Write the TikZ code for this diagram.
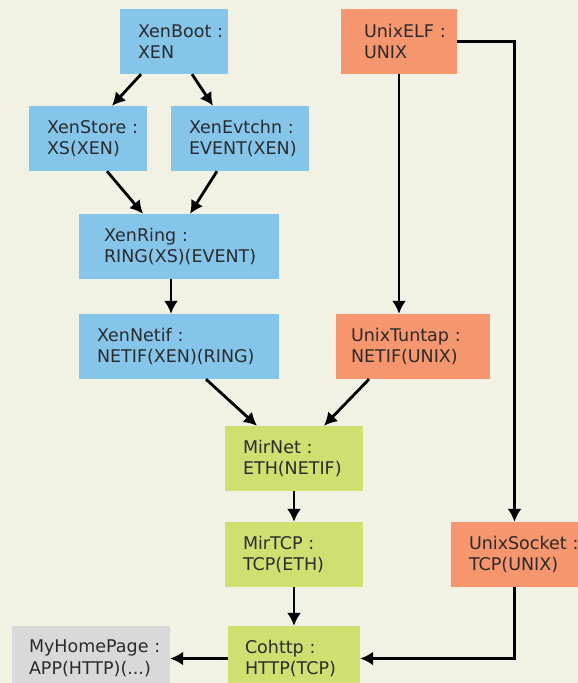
\documentclass[tikz,border=0pt]{standalone}
\usepackage{fontspec}
\setmainfont{DejaVu Sans}
\usetikzlibrary{arrows.meta,calc}
\definecolor{bg}{HTML}{F2F2E4}
\definecolor{xenc}{HTML}{85C5EA}
\definecolor{unixc}{HTML}{F5966F}
\definecolor{mirc}{HTML}{D0DF70}
\definecolor{appc}{HTML}{D9D9D9}
\definecolor{txt}{HTML}{2B2B2B}
\tikzset{
  box/.style={minimum height=65pt, inner ysep=0pt, align=left, text=txt,
    font=\fontsize{17.5}{21.5}\selectfont},
  xenbox/.style={box, fill=xenc},
  unixbox/.style={box, fill=unixc},
  mirbox/.style={box, fill=mirc},
  appbox/.style={box, fill=appc},
  conn/.style={line width=2.8pt, -{Latex[length=13pt,width=14pt]}}
}
\begin{document}
\begin{tikzpicture}[x=1pt,y=-1pt]
\clip (0,0) rectangle (578,683);
\fill[bg] (0,0) rectangle (578,683);
\node[xenbox, inner xsep=18pt, text width=72pt] (XenBoot) at (174,41.5) {XenBoot~:\\XEN};
\node[xenbox, inner xsep=18pt, text width=82pt] (XenStore) at (88,138.5) {XenStore~:\\XS(XEN)};
\node[xenbox, inner xsep=18pt, text width=102pt] (XenEvtchn) at (240,138.5) {XenEvtchn~:\\EVENT(XEN)};
\node[unixbox, inner xsep=23pt, text width=70pt] (UnixELF) at (399,41.5) {UnixELF~:\\UNIX};
\node[xenbox, inner xsep=25pt, text width=150pt] (XenRing) at (179,246.5) {XenRing~:\\RING(XS)(EVENT)};
\node[xenbox, inner xsep=18pt, text width=164pt] (XenNetif) at (179,346.5) {XenNetif~:\\NETIF(XEN)(RING)};
\node[unixbox, inner xsep=15pt, text width=124pt] (UnixTuntap) at (413,346.5) {UnixTuntap~:\\NETIF(UNIX)};
\node[mirbox, inner xsep=18pt, text width=102pt] (MirNet) at (294,458.5) {MirNet~:\\ETH(NETIF)};
\node[mirbox, inner xsep=18pt, text width=102pt] (MirTCP) at (294,554.5) {MirTCP~:\\TCP(ETH)};
\node[unixbox, inner xsep=18pt, text width=91pt] (UnixSocket) at (514.5,554.5) {UnixSocket~:\\TCP(UNIX)};
\node[mirbox, inner xsep=17pt, text width=98pt] (Cohttp) at (294,658.5) {Cohttp~:\\HTTP(TCP)};
\node[appbox, inner xsep=17pt, text width=124pt] (MyHomePage) at (91,658.5) {MyHomePage~:\\APP(HTTP)(...)};
\draw[conn] ([xshift=-33pt]XenBoot.south) -- ([xshift=24pt]XenStore.north);
\draw[conn] ([xshift=18pt]XenBoot.south) -- ([xshift=-27pt]XenEvtchn.north);
\draw[conn] ([xshift=19pt]XenStore.south) -- ([xshift=-36pt]XenRing.north);
\draw[conn] ([xshift=-23pt]XenEvtchn.south) -- ([xshift=11pt]XenRing.north);
\draw[conn] ([xshift=-8pt]XenRing.south) -- ([xshift=-8pt]XenNetif.north);
\draw[conn] ([xshift=27pt]XenNetif.south) -- ([xshift=-37pt]MirNet.north);
\draw[conn] ([xshift=-44pt]UnixTuntap.south) -- ([xshift=30pt]MirNet.north);
\draw[conn] (UnixELF.south) -- (UnixELF.south |- UnixTuntap.north);
\draw[conn] (UnixELF.east) -| (UnixSocket.north);
\draw[conn] (MirNet.south) -- (MirTCP.north);
\draw[conn] (MirTCP.south) -- (Cohttp.north);
\draw[conn] (UnixSocket.south) |- (Cohttp.east);
\draw[conn] (Cohttp.west) -- (MyHomePage.east);
\end{tikzpicture}
\end{document}
